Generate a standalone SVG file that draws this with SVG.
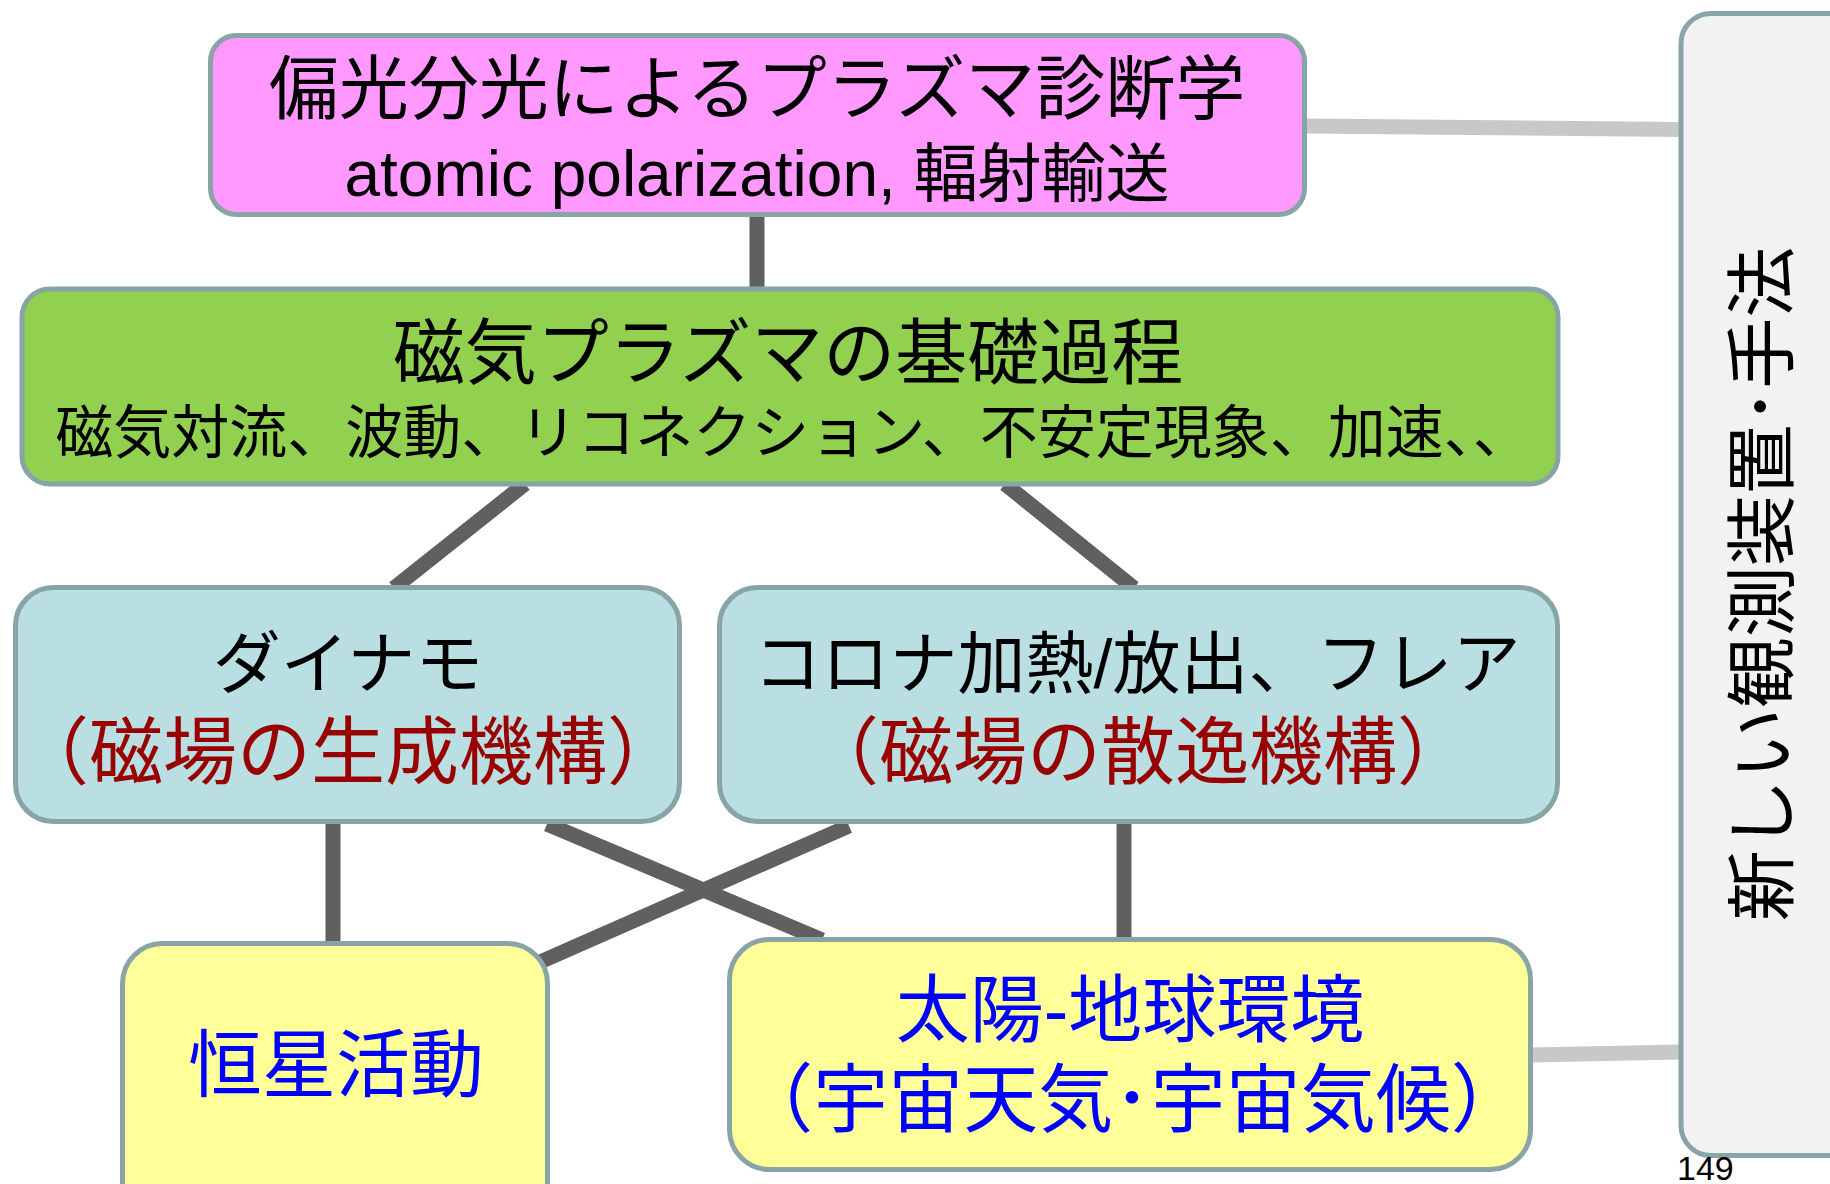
<svg xmlns="http://www.w3.org/2000/svg" width="1830" height="1184" viewBox="0 0 1830 1184">
<style>
.box{stroke:#88a4a6;stroke-width:5}
.t{font-family:"Liberation Sans","Noto Sans CJK JP",sans-serif;text-anchor:middle}
.k{fill:#000}
.r{fill:#990000}
.b{fill:#0000ff}
.c{stroke:#606060;stroke-width:15;fill:none}
.g{stroke:#c8c8c8;stroke-width:15;fill:none}
</style>
<rect width="1830" height="1184" fill="#fff"/>
<g id="connectors">
<line class="g" x1="1305" y1="126" x2="1681" y2="129.5"/>
<line class="g" x1="1530" y1="1055" x2="1681" y2="1052"/>
<line class="c" x1="757" y1="214" x2="757" y2="290"/>
<line class="c" x1="525" y1="484" x2="394" y2="588"/>
<line class="c" x1="1005" y1="484" x2="1134" y2="588"/>
<line class="c" x1="333" y1="822" x2="333" y2="944"/>
<line class="c" x1="1124" y1="822" x2="1124" y2="940"/>
<line class="c" x1="547" y1="824" x2="822" y2="940"/>
<line class="c" x1="849" y1="826" x2="540" y2="962"/>
</g>
<g id="node-pink">
<rect class="box" x="210.5" y="35.5" width="1094" height="179" rx="26" fill="#ff99ff"/>
<text class="t k" x="757" y="114" font-size="70">偏光分光によるプラズマ診断学</text>
<text class="t k" x="757" y="196" font-size="64">atomic polarization, 輻射輸送</text>
</g>
<g id="node-green">
<rect class="box" x="22" y="289" width="1536" height="195" rx="28" fill="#92d050"/>
<text class="t k" x="788" y="378" font-size="72">磁気プラズマの基礎過程</text>
<text class="t k" x="793" y="453" font-size="58">磁気対流、波動、リコネクション、不安定現象、加速、、</text>
</g>
<g id="node-dynamo">
<rect class="box" x="15.5" y="587.5" width="664" height="234" rx="38" fill="#b9dfe3"/>
<text class="t k" x="348" y="688" font-size="68">ダイナモ</text>
<text class="t r" x="348" y="778" font-size="74">（磁場の生成機構）</text>
</g>
<g id="node-corona">
<rect class="box" x="719.5" y="587.5" width="838" height="234" rx="38" fill="#b9dfe3"/>
<text class="t k" x="1137" y="688" font-size="68">コロナ加熱/放出、フレア</text>
<text class="t r" x="1138" y="778" font-size="74">（磁場の散逸機構）</text>
</g>
<g id="node-stellar">
<rect class="box" x="122.5" y="943.5" width="425" height="300" rx="40" fill="#ffff99"/>
<text class="t b" x="336" y="1091" font-size="74">恒星活動</text>
</g>
<g id="node-solar-earth">
<rect class="box" x="729.5" y="939.5" width="801" height="230" rx="40" fill="#ffff99"/>
<text class="t b" x="1130" y="1036" font-size="74">太陽-地球環境</text>
<text class="t b" x="1132" y="1126" font-size="75">（宇宙天気･宇宙気候）</text>
</g>
<g id="node-instruments">
<rect class="box" x="1681" y="13.5" width="200" height="1142" rx="30" fill="#f2f2f2"/>
<text class="t k" transform="translate(1787,584) rotate(-90)" x="0" y="0" font-size="71">新しい観測装置･手法</text>
</g>
<text font-family="Liberation Sans, sans-serif" font-size="34" x="1677" y="1180" fill="#000">149</text>
</svg>
